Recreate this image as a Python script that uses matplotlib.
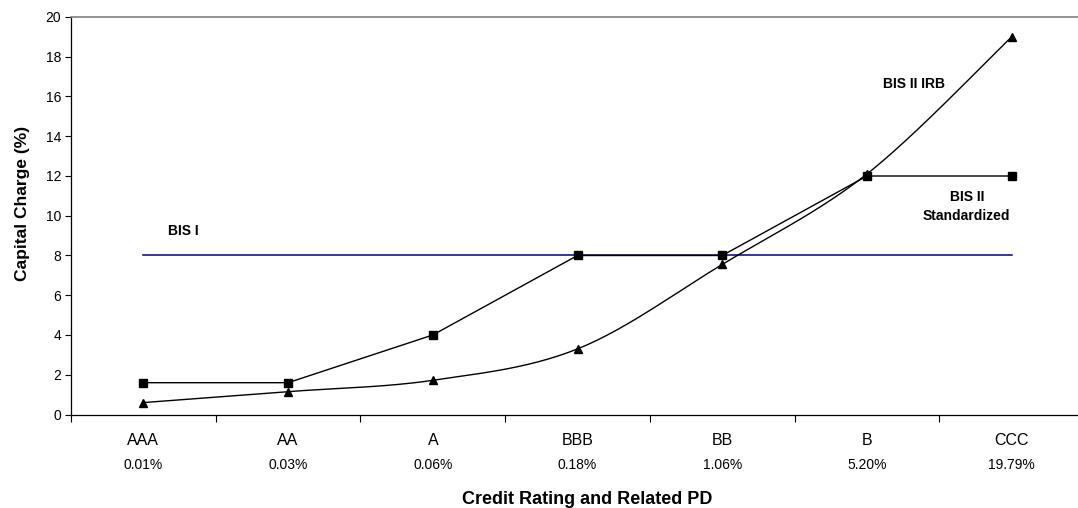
import numpy as np
import matplotlib
matplotlib.use("Agg")
import matplotlib.pyplot as plt
import matplotlib.transforms as mtransforms

plt.rcParams["font.family"] = ["Liberation Sans", "DejaVu Sans"]

# ---------------------------------------------------------
# DATA
# ---------------------------------------------------------
ratings = ["AAA", "AA", "A", "BBB", "BB", "B", "CCC"]
pd_labels = ["0.01%", "0.03%", "0.06%", "0.18%", "1.06%", "5.20%", "19.79%"]

bis1 = [8, 8, 8, 8, 8, 8, 8]
bis2_std = [1.6, 1.6, 4.0, 8.0, 8.0, 12.0, 12.0]
bis2_irb = [0.6, 1.15, 1.72, 3.3, 7.55, 12.1, 19.0]


def smooth(xs, ys, n=30):
    # Excel-style smoothed line (Catmull-Rom as cubic Bezier)
    pts = np.column_stack([xs, ys]).astype(float)
    out = [pts[0]]
    for i in range(len(pts) - 1):
        p0 = pts[i - 1] if i > 0 else pts[i]
        p1 = pts[i]
        p2 = pts[i + 1]
        p3 = pts[i + 2] if i + 2 < len(pts) else pts[i + 1]
        c1 = p1 + (p2 - p0) / 6.0
        c2 = p2 - (p3 - p1) / 6.0
        t = np.linspace(0, 1, n)[1:, None]
        seg = ((1 - t) ** 3) * p1 + 3 * ((1 - t) ** 2) * t * c1 \
            + 3 * (1 - t) * t ** 2 * c2 + t ** 3 * p2
        out.extend(seg)
    out = np.array(out)
    return out[:, 0], out[:, 1]


# ---------------------------------------------------------
# PLOT
# ---------------------------------------------------------
fig = plt.figure(figsize=(10.78, 5.08), dpi=100)
ax = fig.add_axes([71 / 1078, 93.5 / 508, 1013 / 1078, 397.5 / 508])

x = np.arange(len(ratings))

ax.plot(x, bis1, color="#000080", lw=1.1, zorder=2)
ax.plot(x, bis2_std, color="black", lw=1.0, marker="s", ms=5.5, zorder=3)

sx, sy = smooth(x, bis2_irb)
ax.plot(sx, sy, color="black", lw=1.0, zorder=3)
ax.plot(x, bis2_irb, ls="none", color="black", marker="^", ms=6, zorder=4)

ax.set_xlim(-0.5, len(ratings) - 0.5)
ax.set_ylim(0, 20)
ax.set_yticks(np.arange(0, 21, 2))
ax.tick_params(axis="y", direction="out", length=4, width=0.8, labelsize=10, pad=3)

# category boundaries carry the tick marks, labels sit at the centres
ax.set_xticks(np.arange(-0.5, len(ratings), 1.0))
ax.set_xticklabels([])
ax.tick_params(axis="x", which="major", direction="out", length=5, width=0.8)
ax.set_xticks(x, minor=True)
ax.set_xticklabels(ratings, minor=True)
ax.tick_params(axis="x", which="minor", length=0, labelsize=11.5, pad=13)

trans = mtransforms.blended_transform_factory(ax.transData, ax.transAxes)
for xi, lab in zip(x, pd_labels):
    ax.text(xi, -0.127, lab, transform=trans, ha="center", va="center", fontsize=10)

ax.spines["right"].set_visible(False)
ax.spines["top"].set_color("#808080")
ax.spines["top"].set_linewidth(1.2)
ax.spines["left"].set_linewidth(0.9)
ax.spines["bottom"].set_linewidth(0.9)

# ---------------------------------------------------------
# LABELS
# ---------------------------------------------------------
ax.text(0.17, 9.25, "BIS I", fontsize=10, fontweight="bold", ha="left", va="center")
ax.text(5.325, 16.65, "BIS II IRB", fontsize=10, fontweight="bold", ha="center", va="center")
ax.text(5.69, 10.47, "BIS II\nStandardized", fontsize=10, fontweight="bold",
        ha="center", va="center", linespacing=1.45)

fig.text(22.5 / 1078, 1 - 203.5 / 508, "Capital Charge (%)", rotation=90,
         fontsize=12.5, fontweight="bold", ha="center", va="center")
fig.text(587 / 1078, 1 - 499 / 508, "Credit Rating and Related PD",
         fontsize=13, fontweight="bold", ha="center", va="center")

plt.savefig("out.png", dpi=100)
plt.close()
